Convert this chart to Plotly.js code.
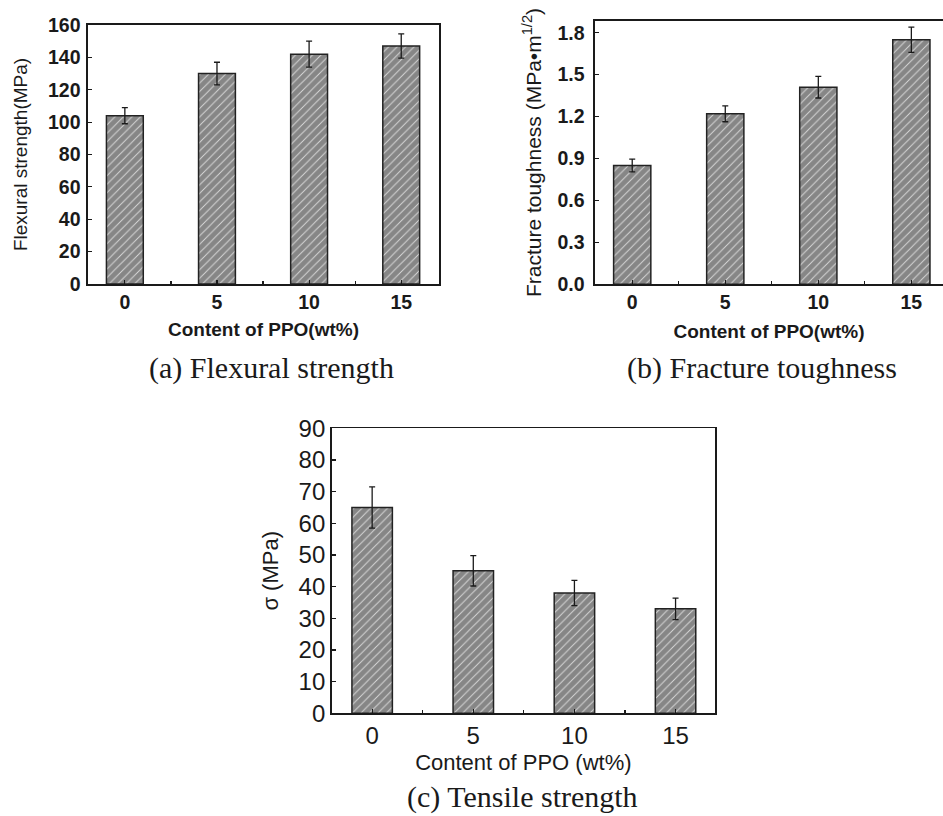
<!DOCTYPE html>
<html>
<head>
<meta charset="utf-8">
<script src="https://cdn.plot.ly/plotly-3.0.1.min.js"></script>
<style>html,body{margin:0;padding:0;background:#fff;}#chart{width:943px;height:816px;}</style>
</head>
<body>
<div id="chart"></div>
<script>
// ---- data ----
const ppoContent = [0, 5, 10, 15];
const xTickLabels = ['0', '5', '10', '15'];

const flexuralStrength = [104, 130, 142, 147];
const flexuralErr = [5, 7, 8, 7.5];

const fractureToughness = [0.85, 1.22, 1.41, 1.75];
const fractureErr = [0.045, 0.057, 0.077, 0.09];

const tensileStrength = [65, 45, 38, 33];
const tensileErr = [6.5, 4.8, 4, 3.4];

const captions = ['(a) Flexural strength', '(b) Fracture toughness', '(c) Tensile strength'];

// ---- styles ----
const SANS = 'Liberation Sans, Arial, sans-serif';
const SERIF = 'Liberation Serif, Times New Roman, serif';
const INK = '#1a1a1a';

function barTrace(y, err, xa, ya) {
  return {
    type: 'bar', x: ppoContent, y: y, width: 2,
    xaxis: xa, yaxis: ya,
    marker: {
      color: '#868686',
      pattern: {shape: '/', bgcolor: '#868686', fgcolor: '#d8d8d8', size: 6, solidity: 0.16},
      line: {color: '#222', width: 1.5}
    },
    error_y: {type: 'data', array: err, visible: true, color: INK, thickness: 1.3, width: 3},
    hoverinfo: 'skip'
  };
}

function xAxis(domain, range, anchor, fsize, bold, title, tsize, standoff) {
  return {
    domain: domain, range: range, anchor: anchor,
    tickvals: ppoContent, ticktext: xTickLabels,
    ticks: 'inside', ticklen: 4, tickwidth: 1.2, tickcolor: INK,
    minor: {dtick: 2.5, tick0: 0, ticks: 'inside', ticklen: 3, tickcolor: INK},
    showline: true, linecolor: INK, linewidth: 1.6, mirror: true,
    showgrid: false, zeroline: false, fixedrange: true,
    tickfont: {family: SANS, size: fsize, color: INK, weight: bold ? 'bold' : 'normal'},
    title: {text: title, font: {family: SANS, size: tsize, color: INK, weight: bold ? 'bold' : 'normal'}, standoff: standoff}
  };
}

function yAxis(domain, range, dtick, anchor, fsize, bold, title, mirror, fmt, tfsize, standoff, lblStandoff) {
  return {
    domain: domain, range: range, anchor: anchor, dtick: dtick, tick0: 0,
    tickformat: fmt,
    ticks: 'inside', ticklen: 4, tickwidth: 1.2, tickcolor: INK,
    ticklabelstandoff: lblStandoff,
    showline: true, linecolor: INK, linewidth: 1.6, mirror: mirror,
    showgrid: false, zeroline: false, fixedrange: true,
    tickfont: {family: SANS, size: fsize, color: INK, weight: bold ? 'bold' : 'normal'},
    title: {text: title, font: {family: SANS, size: tfsize, color: INK}, standoff: standoff}
  };
}

const W = 943, H = 816;
const px = v => v / W;
const py = v => 1 - v / H;

const data = [
  barTrace(flexuralStrength, flexuralErr, 'x', 'y'),
  barTrace(fractureToughness, fractureErr, 'x2', 'y2'),
  barTrace(tensileStrength, tensileErr, 'x3', 'y3')
];

const layout = {
  width: W, height: H,
  margin: {l: 0, r: 0, t: 0, b: 0},
  paper_bgcolor: '#fff', plot_bgcolor: '#fff',
  showlegend: false,
  bargap: 0,
  xaxis: xAxis([px(88), px(439)], [-2, 17.05], 'y', 19.5, true, 'Content of PPO(wt%)', 19, 10),
  yaxis: yAxis([py(284), py(25)], [0, 160], 20, 'x', 19.5, true, 'Flexural strength(MPa)', true, 'd', 19, 15, 2),
  xaxis2: xAxis([px(595), 1], [-2, 16.7], 'y2', 19.5, true, 'Content of PPO(wt%)', 19, 12),
  yaxis2: yAxis([py(284.3), py(20.7)], [0, 1.886], 0.3, 'x2', 19.5, true, 'Fracture toughness (MPa\u2022m<sup>1/2</sup>)', false, '.1f', 21, 10, 5),
  xaxis3: xAxis([px(331.7), px(715)], [-2, 16.95], 'y3', 24, false, 'Content of PPO (wt%)', 22, 7),
  yaxis3: yAxis([py(713.3), py(428.3)], [0, 90], 10, 'x3', 24, false, '\u03c3 (MPa)', true, 'd', 22, 14, 0),
  annotations: [
    {text: captions[0], x: px(271), y: py(368), xref: 'paper', yref: 'paper', showarrow: false,
     font: {family: SERIF, size: 30, color: INK}, xanchor: 'center', yanchor: 'middle'},
    {text: captions[1], x: px(762), y: py(368), xref: 'paper', yref: 'paper', showarrow: false,
     font: {family: SERIF, size: 30, color: INK}, xanchor: 'center', yanchor: 'middle'},
    {text: captions[2], x: px(522), y: py(797), xref: 'paper', yref: 'paper', showarrow: false,
     font: {family: SERIF, size: 30, color: INK}, xanchor: 'center', yanchor: 'middle'}
  ]
};

Plotly.newPlot('chart', data, layout, {staticPlot: true, displayModeBar: false});
</script>
</body>
</html>
